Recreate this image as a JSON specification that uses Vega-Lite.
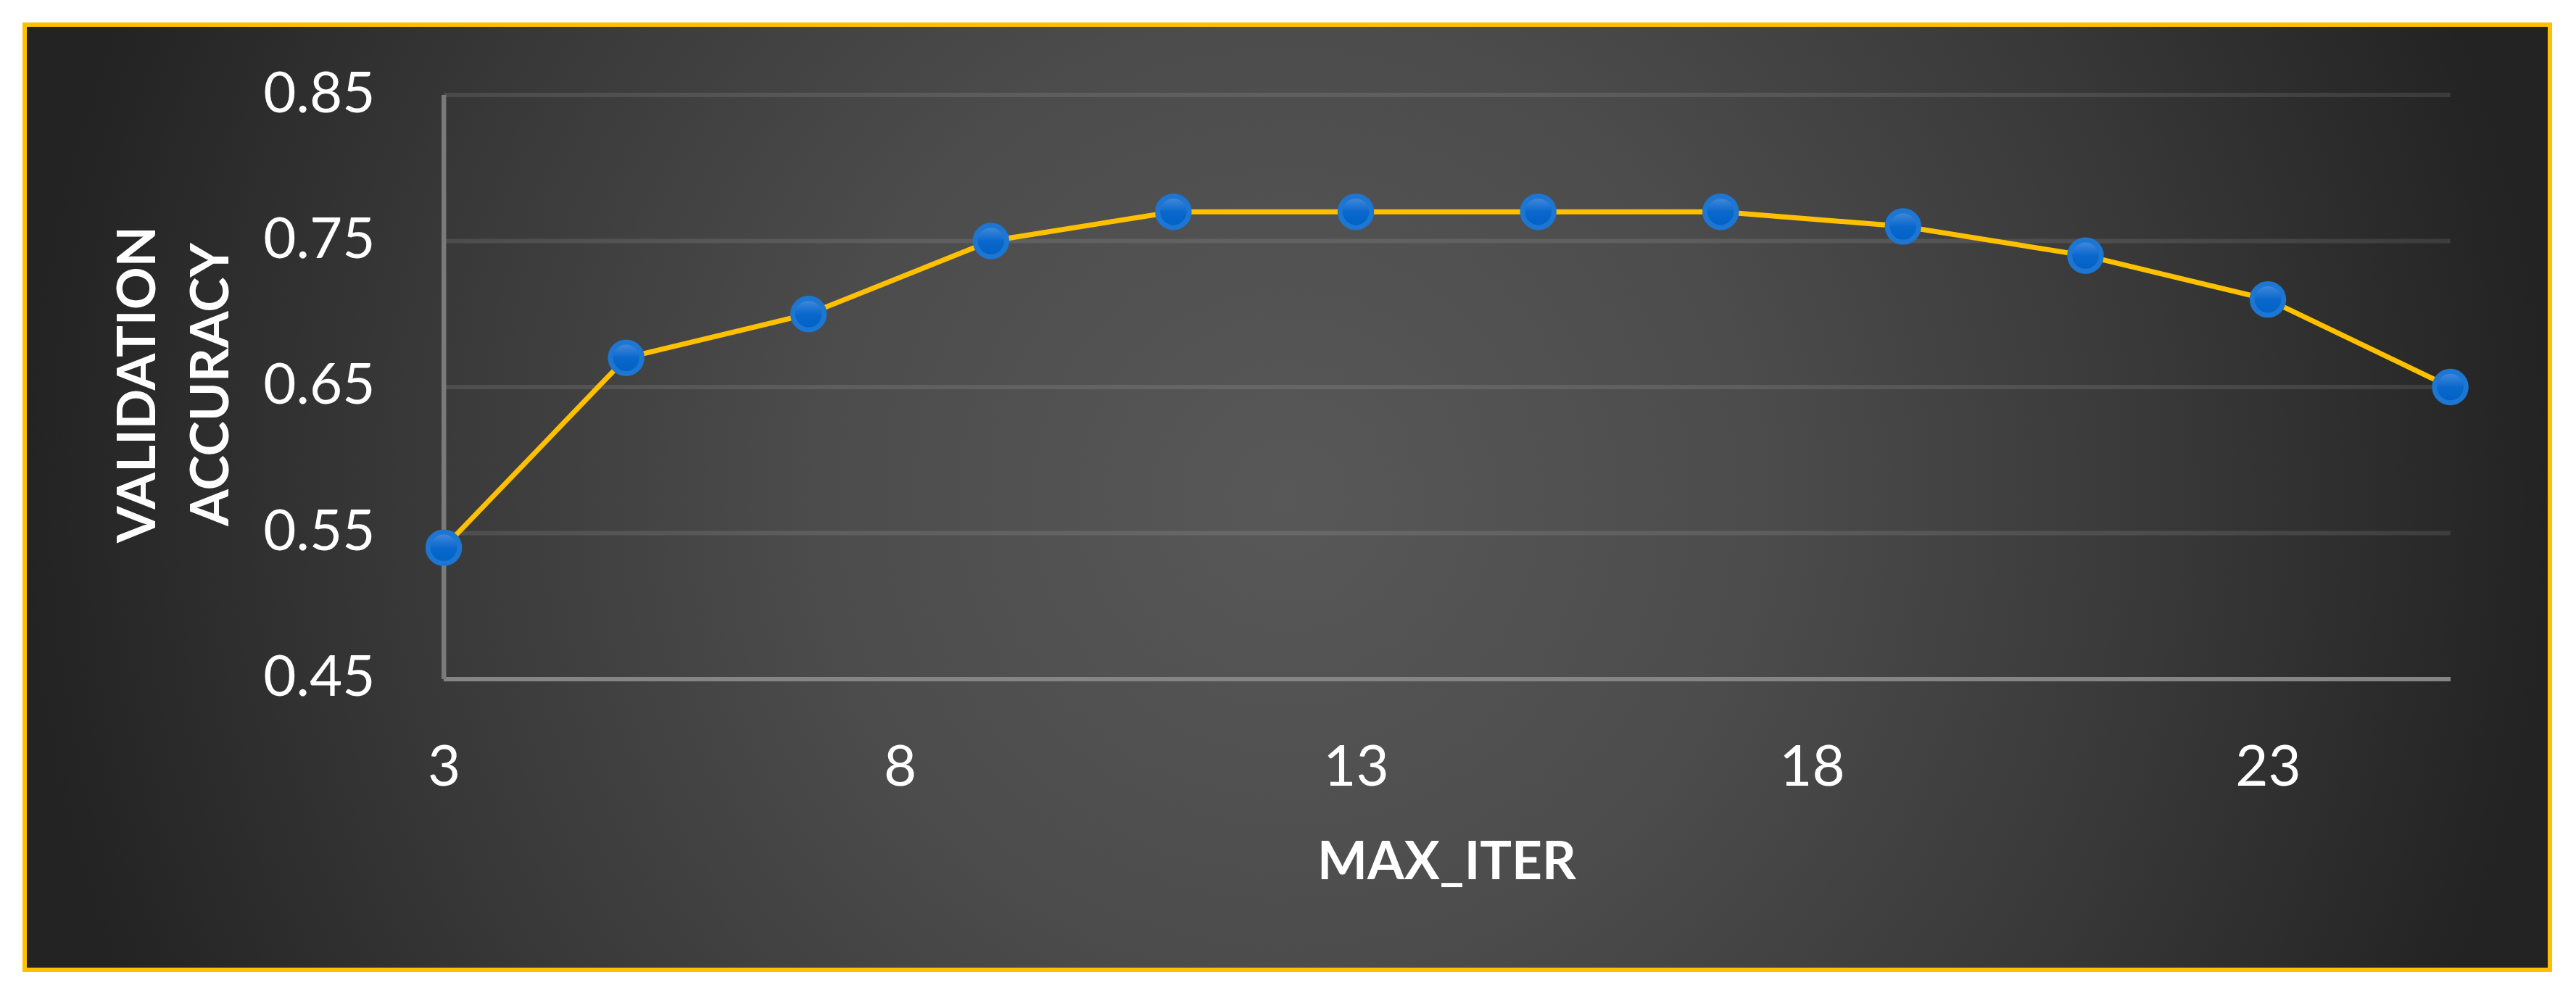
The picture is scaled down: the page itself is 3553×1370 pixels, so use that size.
{
  "$schema": "https://vega.github.io/schema/vega-lite/v6.json",
  "autosize": {"type": "none"},
  "padding": {"left": 34, "top": 34, "right": 36, "bottom": 32},
  "width": 3483,
  "height": 1304,
  "background": "#ffffff",
  "config": {
    "view": {
      "stroke": "#FFC000",
      "strokeWidth": 6,
      "fill": {
        "gradient": "radial",
        "x1": 0.5, "y1": 0.5, "r1": 0,
        "x2": 0.5, "y2": 0.5, "r2": 0.5,
        "stops": [
          {"offset": 0, "color": "#585858"},
          {"offset": 0.37, "color": "#4c4c4c"},
          {"offset": 0.7, "color": "#383838"},
          {"offset": 1, "color": "#232323"}
        ]
      }
    },
    "font": "Lato"
  },
  "datasets": {
    "acc": [
      {"max_iter": 3, "accuracy": 0.54},
      {"max_iter": 5, "accuracy": 0.67},
      {"max_iter": 7, "accuracy": 0.70},
      {"max_iter": 9, "accuracy": 0.75},
      {"max_iter": 11, "accuracy": 0.77},
      {"max_iter": 13, "accuracy": 0.77},
      {"max_iter": 15, "accuracy": 0.77},
      {"max_iter": 17, "accuracy": 0.77},
      {"max_iter": 19, "accuracy": 0.76},
      {"max_iter": 21, "accuracy": 0.74},
      {"max_iter": 23, "accuracy": 0.71},
      {"max_iter": 25, "accuracy": 0.65}
    ],
    "grid": [
      {"level": 0.55},
      {"level": 0.65},
      {"level": 0.75},
      {"level": 0.85}
    ]
  },
  "layer": [
    {
      "data": {"name": "grid"},
      "mark": {"type": "rule", "color": "#ffffff", "opacity": 0.1, "strokeWidth": 6},
      "encoding": {
        "y": {"field": "level", "type": "quantitative"},
        "x": {"datum": 3, "type": "quantitative"},
        "x2": {"datum": 25}
      }
    },
    {
      "data": {"name": "acc"},
      "mark": {"type": "rule", "color": "#858585", "strokeWidth": 6},
      "encoding": {
        "y": {"datum": 0.45, "type": "quantitative"},
        "x": {"datum": 3, "type": "quantitative"},
        "x2": {"datum": 25}
      }
    },
    {
      "data": {"name": "acc"},
      "mark": {"type": "rule", "color": "#7a7a7a", "strokeWidth": 6},
      "encoding": {
        "x": {"datum": 3, "type": "quantitative"},
        "y": {"datum": 0.45, "type": "quantitative"},
        "y2": {"datum": 0.85}
      }
    },
    {
      "data": {"name": "acc"},
      "mark": {"type": "line", "color": "#FFC000", "strokeWidth": 7},
      "encoding": {
        "x": {
          "field": "max_iter",
          "type": "quantitative",
          "scale": {"domain": [-1.595, 26.092], "nice": false, "zero": false},
          "axis": {
            "orient": "bottom",
            "offset": -401,
            "values": [3, 8, 13, 18, 23],
            "format": "d",
            "ticks": false,
            "domain": false,
            "grid": false,
            "labelColor": "#ffffff",
            "labelFont": "Lato",
            "labelFontWeight": "normal",
            "labelFontSize": 78,
            "labelPadding": 84,
            "labelFlush": false,
            "labelOverlap": false,
            "title": "MAX_ITER",
            "titleColor": "#ffffff",
            "titleFont": "Lato",
            "titleFontWeight": "bold",
            "titleFontSize": 73,
            "titlePadding": 55,
            "titleX": 1961
          }
        },
        "y": {
          "field": "accuracy",
          "type": "quantitative",
          "scale": {"domain": [0.25099, 0.89814], "nice": false, "zero": false},
          "axis": {
            "orient": "left",
            "offset": -578,
            "values": [0.45, 0.55, 0.65, 0.75, 0.85],
            "format": ".2f",
            "ticks": false,
            "domain": false,
            "grid": false,
            "labelColor": "#ffffff",
            "labelFont": "Lato",
            "labelFontWeight": "normal",
            "labelFontSize": 78,
            "labelPadding": 95,
            "labelFlush": false,
            "labelOverlap": false,
            "title": ["VALIDATION", "ACCURACY"],
            "titleColor": "#ffffff",
            "titleFont": "Lato",
            "titleFontWeight": "bold",
            "titleFontSize": 73,
            "titleLineHeight": 101,
            "titlePadding": 83,
            "titleY": 496
          }
        }
      }
    },
    {
      "data": {"name": "acc"},
      "mark": {
        "type": "point",
        "shape": "circle",
        "filled": true,
        "size": 1886,
        "opacity": 1,
        "fill": {
          "gradient": "linear",
          "x1": 0, "y1": 0, "x2": 0, "y2": 1,
          "stops": [
            {"offset": 0, "color": "#4a8edc"},
            {"offset": 0.5, "color": "#0a68cc"},
            {"offset": 1, "color": "#0060c4"}
          ]
        },
        "stroke": "#1c76d2",
        "strokeWidth": 7
      },
      "encoding": {
        "x": {"field": "max_iter", "type": "quantitative"},
        "y": {"field": "accuracy", "type": "quantitative"}
      }
    }
  ]
}
